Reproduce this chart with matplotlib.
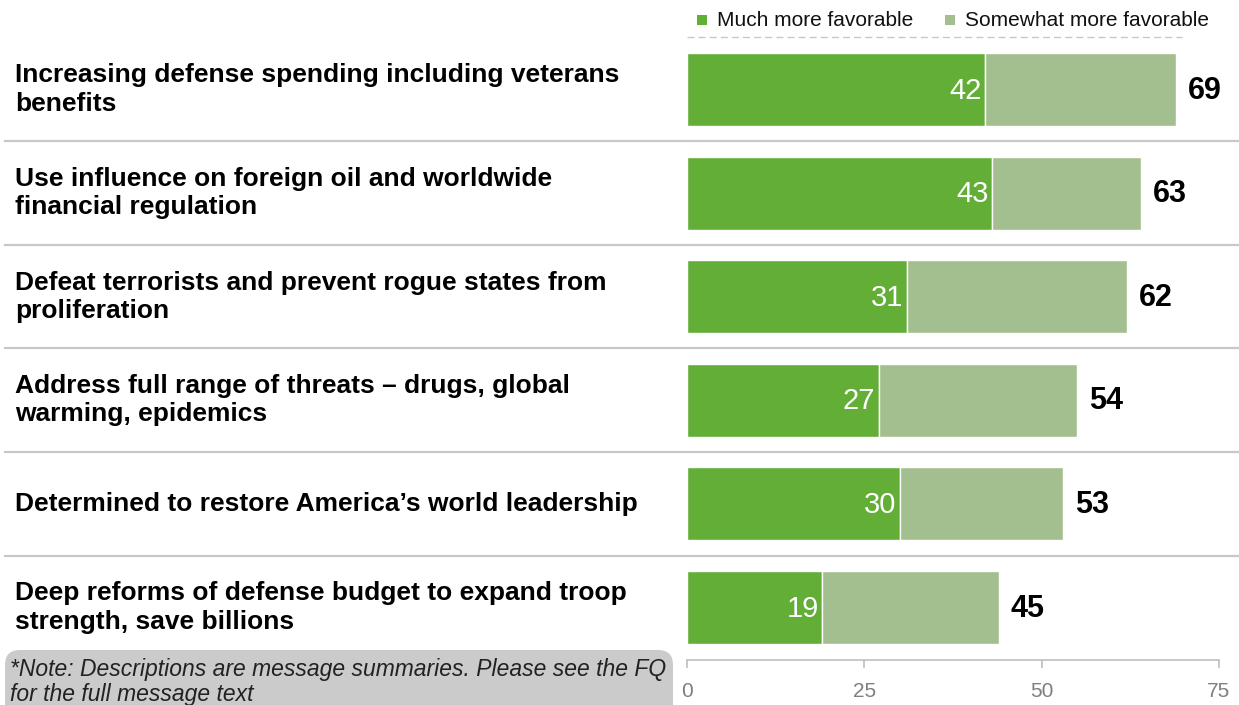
import matplotlib
matplotlib.use("Agg")
import matplotlib.pyplot as plt
from matplotlib.lines import Line2D
from matplotlib.patches import FancyBboxPatch, Rectangle
import matplotlib.transforms as mtrans

plt.rcParams['font.family'] = ['Liberation Sans', 'DejaVu Sans']

categories = [
    "Increasing defense spending including veterans\nbenefits",
    "Use influence on foreign oil and worldwide\nfinancial regulation",
    "Defeat terrorists and prevent rogue states from\nproliferation",
    "Address full range of threats \u2013 drugs, global\nwarming, epidemics",
    "Determined to restore America\u2019s world leadership",
    "Deep reforms of defense budget to expand troop\nstrength, save billions",
]
much_more = [42, 43, 31, 27, 30, 19]
somewhat_more = [27, 21, 31, 28, 23, 25]
total_labels = [69, 63, 62, 54, 53, 45]
x_ticks = [0, 25, 50, 75]
series_names = ["Much more favorable", "Somewhat more favorable"]
note = "*Note: Descriptions are message summaries. Please see the FQ\nfor the full message text"

DARK = "#62AE37"
LIGHT = "#A3BF8F"

W, H = 1239, 705
fig = plt.figure(figsize=(W / 100, H / 100), dpi=100)
ax = fig.add_axes([687 / W, 1 - 660 / H, (1219 - 687) / W, (660 - 37) / H])

ypos = list(range(len(categories)))
ax.barh(ypos, much_more, height=0.705, color=DARK, edgecolor="white", linewidth=1)
ax.barh(ypos, somewhat_more, left=much_more, height=0.705, color=LIGHT, edgecolor="white", linewidth=1)
ax.set_ylim(5.507, -0.507)
ax.set_xlim(0, 75)

for y, m, s, t in zip(ypos, much_more, somewhat_more, total_labels):
    ax.text(m - 0.45, y + 0.01, str(m), ha="right", va="center", color="white", fontsize=21)
    ax.text(m + s + 1.65, y + 0.01, str(t), ha="left", va="center", color="black", fontsize=22, fontweight="bold")

# category labels
trans = mtrans.blended_transform_factory(fig.transFigure, ax.transData)
for y, c in zip(ypos, categories):
    ax.text(15 / W, y, c, transform=trans, ha="left", va="center", fontsize=19,
            fontweight="bold", linespacing=1.22)

# separators
for y in [0.5, 1.5, 2.5, 3.5, 4.5]:
    fig.add_artist(Line2D([5 / W, 1.0], [y, y], transform=trans, color="#C8C8C8", lw=1.6))

# axes styling
for sp in ["top", "right", "left"]:
    ax.spines[sp].set_visible(False)
ax.spines["bottom"].set_color("#BFBFBF")
ax.spines["bottom"].set_linewidth(1.2)
ax.set_yticks([])
ax.set_xticks(x_ticks)
ax.set_xticklabels([str(v) for v in x_ticks])
ax.tick_params(axis="x", colors="#BFBFBF", length=6, width=1.2, pad=10, labelsize=15, labelcolor="#7F7F7F")

# dashed line at top
fig.add_artist(Line2D([687 / W, 1182 / W], [1 - 37 / H, 1 - 37 / H], color="#C8C8C8", lw=1.0,
                      linestyle=(0, (5, 3))))

# legend
ly = 1 - 20 / H
for x0, col, name in [(697, DARK, series_names[0]), (945, LIGHT, series_names[1])]:
    fig.add_artist(Rectangle((x0 / W, ly - 5 / H), 10 / W, 10 / H, transform=fig.transFigure,
                             facecolor=col, edgecolor="none"))
    fig.text((x0 + 20) / W, ly, name, ha="left", va="center", fontsize=15, color="#111111")

# note box
box = FancyBboxPatch((5 / W, -20 / H), 668 / W, 75 / H, transform=fig.transFigure,
                     boxstyle="round,pad=0,rounding_size=0.012", facecolor="#CBCBCB",
                     edgecolor="none", mutation_aspect=W / H, clip_on=False)
fig.add_artist(box)
fig.text(10 / W, 1 - 658 / H, note, ha="left", va="top", fontsize=16.5, style="italic",
         color="#222222", linespacing=1.1)

fig.savefig("out.png", dpi=100)
